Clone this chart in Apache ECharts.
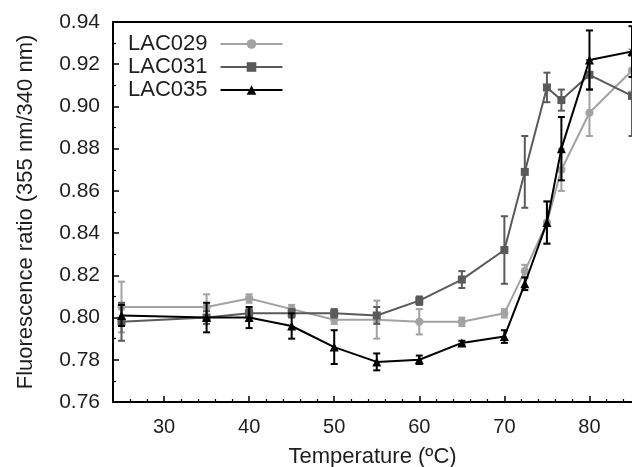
<!DOCTYPE html>
<html>
<head>
<meta charset="utf-8">
<script src="https://cdn.jsdelivr.net/npm/echarts@6/dist/echarts.min.js"></script>
<style>
html,body{margin:0;padding:0;background:#fff;}
#chart{width:632px;height:467px;}
</style>
</head>
<body>
<div id="chart"></div>
<script>
// Data
const temps = [25, 35, 40, 45, 50, 55, 60, 65, 70, 72.4, 75, 76.7, 80, 85];
const lac029 = [0.805, 0.805, 0.809, 0.804, 0.799, 0.799, 0.798, 0.798, 0.802, 0.822, 0.845, 0.870, 0.897, 0.917];
const lac029Err = [0.012, 0.006, 0.002, 0.002, 0.002, 0.009, 0.006, 0.002, 0.002, 0.003, 0.010, 0.010, 0.011, 0.010];
const lac031 = [0.798, 0.800, 0.802, 0.802, 0.802, 0.801, 0.808, 0.818, 0.832, 0.869, 0.909, 0.903, 0.915, 0.905];
const lac031Err = [0.009, 0.003, 0.002, 0.002, 0.002, 0.004, 0.002, 0.004, 0.016, 0.017, 0.007, 0.005, 0.007, 0.019];
const lac035 = [0.801, 0.800, 0.800, 0.796, 0.786, 0.779, 0.780, 0.788, 0.791, 0.816, 0.845, 0.880, 0.922, 0.926];
const lac035Err = [0.005, 0.007, 0.005, 0.006, 0.008, 0.004, 0.002, 0.001, 0.003, 0.003, 0.010, 0.015, 0.014, 0.012];
const seriesNames = ['LAC029', 'LAC031', 'LAC035'];
const xMajorTicks = [30, 40, 50, 60, 70, 80];
const xMinorTicks = [26, 28, 32, 34, 36, 38, 42, 44, 46, 48, 52, 54, 56, 58, 62, 64, 66, 68, 72, 74, 76, 78, 82, 84];

const FONT = "'Liberation Sans', Arial, sans-serif";
const TXT = '#1e1e1e';
const colors = ['#a2a2a2', '#5a5a5a', '#000000'];
const symbols = ['circle', 'rect', 'triangle'];
const symSizes = [8, 8, 9];
const values = [lac029, lac031, lac035];
const errs = [lac029Err, lac031Err, lac035Err];

const chart = echarts.init(document.getElementById('chart'), null, {renderer: 'canvas'});

const series = [];
seriesNames.forEach((name, k) => {
  series.push({
    name: name,
    type: 'line',
    data: temps.map((t, i) => [t, values[k][i]]),
    symbol: symbols[k],
    symbolSize: symSizes[k],
    showAllSymbol: true,
    itemStyle: {color: colors[k]},
    lineStyle: {color: colors[k], width: 2},
    z: 2 + k * 2,
    clip: true
  });
  series.push({
    name: name + ' error',
    type: 'custom',
    data: temps.map((t, i) => [t, values[k][i], errs[k][i]]),
    encode: {x: 0, y: 1},
    z: 3 + k * 2,
    clip: true,
    renderItem: function (params, api) {
      const x = api.value(0), y = api.value(1), e = api.value(2);
      const top = api.coord([x, y + e]);
      const bot = api.coord([x, y - e]);
      const hw = 3.5;
      const st = {stroke: colors[k], lineWidth: 2};
      return {
        type: 'group',
        children: [
          {type: 'line', shape: {x1: top[0], y1: top[1], x2: bot[0], y2: bot[1]}, style: st},
          {type: 'line', shape: {x1: top[0] - hw, y1: top[1], x2: top[0] + hw, y2: top[1]}, style: st},
          {type: 'line', shape: {x1: bot[0] - hw, y1: bot[1], x2: bot[0] + hw, y2: bot[1]}, style: st}
        ]
      };
    }
  });
});

const option = {
  animation: false,
  backgroundColor: '#ffffff',
  textStyle: {fontFamily: FONT},
  grid: {left: 113, right: 0, top: 22, bottom: 65, containLabel: false, outerBoundsMode: 'none'},
  legend: {
    data: seriesNames,
    orient: 'vertical',
    left: 123,
    top: 28,
    align: 'right',
    itemWidth: 62,
    itemHeight: 12,
    itemGap: 1,
    textStyle: {fontFamily: FONT, fontSize: 22, color: TXT, padding: [0, 8, 0, 0]}
  },
  xAxis: [
    {
      type: 'value', min: 24, max: 85, position: 'bottom',
      axisLine: {show: true, onZero: false, lineStyle: {color: '#000', width: 2}},
      axisTick: {show: true, inside: true, length: 6, customValues: xMajorTicks, lineStyle: {color: '#000', width: 1.5}},
      axisLabel: {show: true, customValues: xMajorTicks, fontFamily: FONT, fontSize: 20, color: TXT, margin: 15},
      splitLine: {show: false},
      name: 'Temperature (ºC)',
      nameLocation: 'middle',
      nameGap: 44,
      nameTextStyle: {fontFamily: FONT, fontSize: 22, color: TXT}
    },
    {
      type: 'value', min: 24, max: 85, position: 'bottom',
      axisLine: {show: false},
      axisTick: {show: true, inside: true, length: 3, customValues: xMinorTicks, lineStyle: {color: '#000', width: 1.2}},
      axisLabel: {show: false},
      splitLine: {show: false}
    },
    {
      type: 'value', min: 24, max: 85, position: 'top',
      axisLine: {show: true, onZero: false, lineStyle: {color: '#000', width: 2}},
      axisTick: {show: false},
      axisLabel: {show: false},
      splitLine: {show: false}
    }
  ],
  yAxis: {
    type: 'value', min: 0.76, max: 0.94, interval: 0.02,
    axisLine: {show: true, onZero: false, lineStyle: {color: '#000', width: 2}},
    axisTick: {show: true, inside: true, length: 6, lineStyle: {color: '#000', width: 1.5}},
    minorTick: {show: true, splitNumber: 2, length: 3, lineStyle: {color: '#000', width: 1.2}},
    axisLabel: {fontFamily: FONT, fontSize: 21, color: TXT, margin: 13, formatter: v => v.toFixed(2)},
    splitLine: {show: false},
    name: 'Fluorescence ratio (355 nm/340 nm)',
    nameLocation: 'middle',
    nameGap: 76,
    nameTextStyle: {fontFamily: FONT, fontSize: 22, color: TXT}
  },
  series: series
};
chart.setOption(option);
</script>
</body>
</html>
